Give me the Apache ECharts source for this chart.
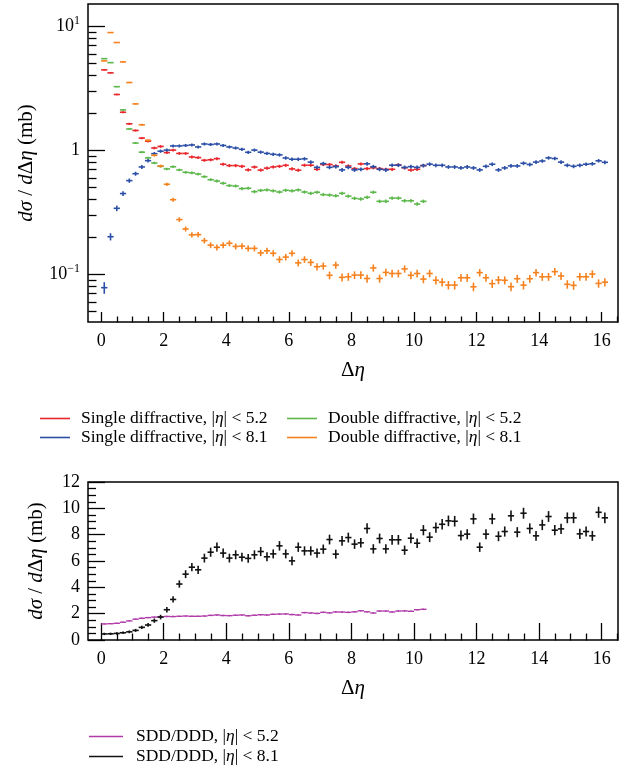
<!DOCTYPE html>
<html><head><meta charset="utf-8">
<script src="https://cdn.jsdelivr.net/npm/echarts@6/dist/echarts.min.js"></script>
<style>html,body{margin:0;padding:0;background:#fff;}#c{width:629px;height:776px;}</style>
</head><body><div id="c"></div>
<script>
// ---- data ----
const etaBins = [0.1,0.3,0.5,0.7,0.9,1.1,1.3,1.5,1.7,1.9,2.1,2.3,2.5,2.7,2.9,3.1,3.3,3.5,3.7,3.9,
  4.1,4.3,4.5,4.7,4.9,5.1,5.3,5.5,5.7,5.9,6.1,6.3,6.5,6.7,6.9,7.1,7.3,7.5,7.7,7.9,
  8.1,8.3,8.5,8.7,8.9,9.1,9.3,9.5,9.7,9.9,10.1,10.3,10.5,10.7,10.9,11.1,11.3,11.5,11.7,11.9,
  12.1,12.3,12.5,12.7,12.9,13.1,13.3,13.5,13.7,13.9,14.1,14.3,14.5,14.7,14.9,15.1,15.3,15.5,15.7,15.9,16.1];

const sdEta52 = [4.44,4.20,2.81,2.02,1.63,1.44,1.25,1.18,1.04,1.07,0.955,1.0,0.94,0.94,0.88,0.87,0.828,0.835,0.853,0.769,
  0.75,0.75,0.74,0.692,0.73,0.69,0.715,0.731,0.74,0.754,0.705,0.688,0.755,0.755,0.70,0.765,0.765,0.745,0.797,0.745,
  0.709,0.773,0.709,0.72,0.709,0.70,0.70,0.76,0.72,0.69,0.70,0.75];
const ddEta52 = [5.47,5.08,3.25,2.11,1.48,1.14,0.962,0.865,0.787,0.74,0.705,0.734,0.692,0.662,0.655,0.641,0.61,0.577,0.563,0.54,
  0.517,0.513,0.489,0.492,0.462,0.473,0.477,0.469,0.459,0.474,0.469,0.477,0.459,0.448,0.457,0.437,0.434,0.428,0.448,0.425,
  0.408,0.403,0.416,0.457,0.386,0.386,0.41,0.41,0.39,0.39,0.367,0.386];
const sdEta81 = [0.0776,0.200,0.339,0.446,0.567,0.645,0.731,0.822,0.936,0.98,1.0,1.08,1.08,1.09,1.10,1.06,1.12,1.11,1.12,1.09,
  1.06,1.04,1.015,0.96,1.0,0.963,0.94,0.925,0.915,0.864,0.844,0.844,0.85,0.80,0.726,0.778,0.726,0.735,0.692,0.726,
  0.692,0.70,0.775,0.735,0.70,0.692,0.755,0.755,0.725,0.735,0.726,0.75,0.77,0.754,0.754,0.731,0.731,0.718,0.731,0.718,
  0.692,0.74,0.769,0.692,0.718,0.745,0.745,0.783,0.765,0.80,0.817,0.865,0.855,0.80,0.754,0.74,0.754,0.769,0.775,0.82,0.797];
const ddEta81 = [5.25,8.88,7.38,5.15,3.51,2.36,1.60,1.20,0.908,0.744,0.53,0.398,0.275,0.231,0.207,0.208,0.186,0.171,0.164,0.171,
  0.177,0.167,0.168,0.161,0.161,0.148,0.154,0.147,0.131,0.137,0.147,0.123,0.131,0.124,0.1145,0.116,0.0976,0.118,0.094,0.095,
  0.098,0.098,0.092,0.112,0.092,0.103,0.101,0.101,0.110,0.0976,0.101,0.091,0.101,0.089,0.086,0.0814,0.0814,0.0933,0.0933,0.0789,
  0.1026,0.0933,0.0836,0.0895,0.089,0.079,0.0916,0.0814,0.0916,0.1026,0.095,0.095,0.1045,0.0964,0.0826,0.081,0.095,0.095,0.100,0.084,0.086];
const ratio52 = [1.22,1.24,1.27,1.35,1.45,1.58,1.65,1.70,1.74,1.77,1.79,1.78,1.80,1.82,1.80,1.80,1.82,1.87,1.90,1.86,
  1.85,1.88,1.90,1.84,1.88,1.92,1.90,1.95,1.97,1.98,1.93,1.90,2.08,2.05,2.02,2.10,2.06,2.13,2.12,2.10,
  2.14,2.22,2.14,2.05,2.20,2.20,2.13,2.20,2.21,2.18,2.30,2.33];
const ratio81 = [0.46,0.47,0.50,0.55,0.62,0.73,0.96,1.14,1.47,1.74,2.30,3.08,4.25,5.0,5.53,5.33,6.22,6.67,7.05,6.6,
  6.22,6.47,6.29,6.2,6.47,6.72,6.32,6.54,7.15,6.54,6.01,7.05,6.77,6.77,6.6,6.9,7.63,6.52,7.53,7.78,
  7.28,7.38,8.47,6.92,7.71,6.92,7.61,7.61,6.82,7.73,7.35,8.34,7.81,8.54,8.79,9.05,9.02,7.93,8.04,9.2,
  7.05,8.04,9.2,7.88,8.24,9.43,8.19,9.63,8.47,7.91,8.74,9.38,8.34,8.44,9.28,9.28,8.06,8.24,7.91,9.7,9.28];

// tick labels / positions
const xMajorTicks = [0,2,4,6,8,10,12,14,16];
const xMinorTicks = [0.5,1,1.5,2.5,3,3.5,4.5,5,5.5,6.5,7,7.5,8.5,9,9.5,10.5,11,11.5,12.5,13,13.5,14.5,15,15.5,16.5];
const logMajorTicks = [0.1,1,10];
const logMinorTicks = [0.05,0.06,0.07,0.08,0.09,0.2,0.3,0.4,0.5,0.6,0.7,0.8,0.9,2,3,4,5,6,7,8,9];
const linMinorTicks = [0.5,1,1.5,2.5,3,3.5,4.5,5,5.5,6.5,7,7.5,8.5,9,9.5,10.5,11,11.5];

// names
const N_SD52 = 'Single diffractive, |η| < 5.2';
const N_SD81 = 'Single diffractive, |η| < 8.1';
const N_DD52 = 'Double diffractive, |η| < 5.2';
const N_DD81 = 'Double diffractive, |η| < 8.1';
const N_R52 = 'SDD/DDD, |η| < 5.2';
const N_R81 = 'SDD/DDD, |η| < 8.1';

// ---- rendering ----
const FONT = '"Liberation Serif", "DejaVu Serif", serif';
const X_MIN = -0.42, X_MAX = 16.52;
const LOG_MIN = 0.041, LOG_MAX = 15.1;
const HALF_BIN = 0.1;

function withErr(vals, k) {
  return vals.map((v, i) => [etaBins[i], v, v - k * Math.sqrt(v), v + k * Math.sqrt(v)]);
}
function crossSeries(name, color, vals, k, gi, lw) {
  return {
    name, type: 'custom', xAxisIndex: gi, yAxisIndex: gi,
    itemStyle: { color }, encode: { x: 0, y: [1, 2, 3] }, silent: true,
    data: withErr(vals, k),
    renderItem: function (params, api) {
      const x = api.value(0), y = api.value(1), lo = api.value(2), hi = api.value(3);
      const a = api.coord([x - HALF_BIN, y]), b = api.coord([x + HALF_BIN, y]);
      const c = api.coord([x, lo]), d = api.coord([x, hi]);
      const st = { stroke: color, lineWidth: lw };
      return { type: 'group', children: [
        { type: 'line', shape: { x1: a[0], y1: a[1], x2: b[0], y2: b[1] }, style: st },
        { type: 'line', shape: { x1: c[0], y1: c[1], x2: d[0], y2: d[1] }, style: st }
      ]};
    }
  };
}

const labelStyle = { fontFamily: FONT, fontSize: 18, color: '#000' };
const nameRich = {
  i: { fontFamily: FONT, fontSize: 21, fontStyle: 'italic', color: '#000' },
  r: { fontFamily: FONT, fontSize: 21, color: '#000' }
};
const yName = '{i|dσ}{r| / }{i|d}{r|Δ}{i|η}{r| (mb)}';
const xName = '{r|Δ}{i|η}';

function legendFmt(name) {
  const m = name.match(/^(.*\|)η(\|.*)$/);
  return '{t|' + m[1] + '}{i|η}{u|' + m[2] + '}';
}
const legendText = {
  fontFamily: FONT, fontSize: 17.5, color: '#000', lineHeight: 19,
  rich: {
    t: { fontFamily: FONT, fontSize: 17.5, color: '#000', lineHeight: 19, padding: [0, 0, 0, 6] },
    i: { fontFamily: FONT, fontSize: 17.5, fontStyle: 'italic', color: '#000', lineHeight: 19 },
    u: { fontFamily: FONT, fontSize: 17.5, color: '#000', lineHeight: 19 }
  }
};
const legendTextB = JSON.parse(JSON.stringify(legendText));
legendTextB.rich.t.padding = [0, 0, 0, 8];

const tickLine = { color: '#000', width: 1.3 };
const chart = echarts.init(document.getElementById('c'), null, { renderer: 'canvas' });
chart.setOption({
  animation: false,
  backgroundColor: '#fff',
  grid: [
    { left: 88, top: 4, width: 530, height: 318, show: true, borderColor: '#000', borderWidth: 1.5, backgroundColor: 'transparent' },
    { left: 88, top: 482, width: 530, height: 158, show: true, borderColor: '#000', borderWidth: 1.5, backgroundColor: 'transparent' }
  ],
  xAxis: [
    { type: 'value', gridIndex: 0, min: X_MIN, max: X_MAX,
      axisLine: { show: false, onZero: false }, splitLine: { show: false },
      axisTick: { inside: true, length: 10, customValues: xMajorTicks, lineStyle: tickLine },
      axisLabel: { customValues: xMajorTicks, margin: 10, ...labelStyle },
      name: xName, nameLocation: 'middle', nameGap: 38, nameTextStyle: { rich: nameRich } },
    { type: 'value', gridIndex: 1, min: X_MIN, max: X_MAX,
      axisLine: { show: false, onZero: false }, splitLine: { show: false },
      axisTick: { inside: true, length: 17, customValues: xMajorTicks, lineStyle: tickLine },
      axisLabel: { customValues: xMajorTicks, margin: 10, ...labelStyle },
      name: xName, nameLocation: 'middle', nameGap: 38, nameTextStyle: { rich: nameRich } }
  ],
  yAxis: [
    { type: 'log', logBase: 10, gridIndex: 0, min: LOG_MIN, max: LOG_MAX,
      axisLine: { show: false, onZero: false }, splitLine: { show: false },
      axisTick: { inside: true, length: 17, customValues: logMajorTicks, lineStyle: tickLine },
      axisLabel: { customValues: logMajorTicks, margin: 8, ...labelStyle,
        formatter: function (v) {
          if (Math.abs(v - 10) < 1e-6) return '{b|10}{s|1}';
          if (Math.abs(v - 0.1) < 1e-6) return '{b|10}{s|−1}';
          return '{b|1}';
        },
        rich: {
          b: { fontFamily: FONT, fontSize: 18, color: '#000', lineHeight: 22 },
          s: { fontFamily: FONT, fontSize: 12, color: '#000', verticalAlign: 'top', lineHeight: 22, padding: [0, 0, 10, 0] }
        } },
      name: yName, nameLocation: 'middle', nameRotate: 90, nameGap: 51, nameTextStyle: { rich: nameRich } },
    { type: 'value', gridIndex: 1, min: 0, max: 12, interval: 2,
      axisLine: { show: false, onZero: false }, splitLine: { show: false },
      axisTick: { inside: true, length: 17, lineStyle: tickLine },
      minorTick: { show: true, splitNumber: 4, length: 8, lineStyle: tickLine },
      axisLabel: { margin: 8, ...labelStyle },
      name: yName, nameLocation: 'middle', nameRotate: 90, nameGap: 41, nameTextStyle: { rich: nameRich } }
  ],
  legend: [
    { data: [N_SD52, N_SD81], left: 40, top: 409, orient: 'vertical', icon: 'rect', itemWidth: 30, itemHeight: 1.6, itemGap: 0,
      formatter: legendFmt, textStyle: legendText, selectedMode: false, padding: 0 },
    { data: [N_DD52, N_DD81], left: 287, top: 409, orient: 'vertical', icon: 'rect', itemWidth: 30, itemHeight: 1.6, itemGap: 0,
      formatter: legendFmt, textStyle: legendText, selectedMode: false, padding: 0 },
    { data: [N_R52, N_R81], left: 89, top: 727, orient: 'vertical', icon: 'rect', itemWidth: 34, itemHeight: 1.6, itemGap: 1,
      formatter: legendFmt, textStyle: legendTextB, selectedMode: false, padding: 0 }
  ],
  series: [
    crossSeries(N_SD52, '#e8262c', sdEta52, 0.025, 0, 1.6),
    crossSeries(N_DD52, '#5cb84a', ddEta52, 0.02, 0, 1.6),
    crossSeries(N_SD81, '#2b4ea6', sdEta81, 0.03, 0, 1.6),
    crossSeries(N_DD81, '#f5821f', ddEta81, 0.0225, 0, 1.6),
    crossSeries(N_R52, '#b03aa8', ratio52, 0.04, 1, 1.4),
    crossSeries(N_R81, '#111111', ratio81, 0.134, 1, 1.6)
  ]
});

// minor ticks, placed through the axes' own scales
function minorTicks(gi, vals, dir, base, len) {
  return vals.map(v => {
    const p = chart.convertToPixel({ xAxisIndex: gi, yAxisIndex: gi }, dir === 'x' ? [v, base] : [X_MIN, v]);
    const x = Math.round(p[0]) + 0.5, y = Math.round(p[1]) + 0.5;
    const shape = dir === 'x' ? { x1: x, y1: y, x2: x, y2: y - len }
                              : { x1: x, y1: y, x2: x + len, y2: y };
    return { type: 'line', shape, style: { stroke: '#000', lineWidth: 1.3 }, silent: true, z: 100 };
  });
}
chart.setOption({
  graphic: { elements: [].concat(
    minorTicks(0, xMinorTicks, 'x', LOG_MIN, 6),
    minorTicks(0, logMinorTicks, 'y', 0, 8),
    minorTicks(1, xMinorTicks, 'x', 0, 7)
  ) }
});
</script></body></html>
